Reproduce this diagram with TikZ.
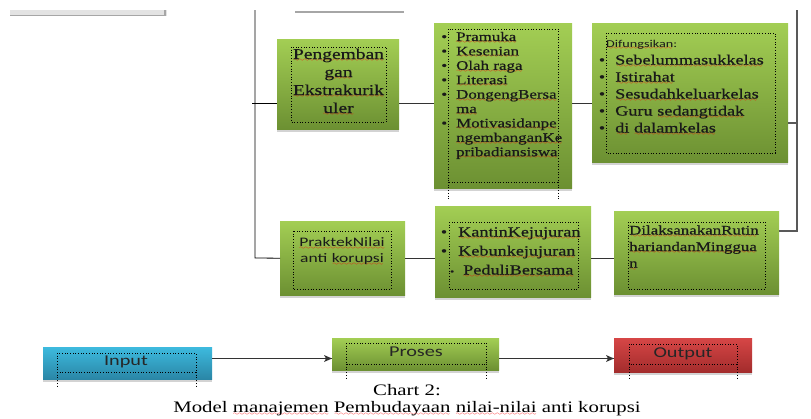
\documentclass[tikz,border=0pt]{standalone}
\usepackage{fontspec}
\usetikzlibrary{positioning,shadows,arrows.meta}

\newfontfamily\boxserif[FakeStretch=1.3,FakeBold=0.6]{Liberation Serif}
\newfontfamily\capserif[FakeStretch=1.3]{Liberation Serif}
\newfontfamily\boxsans[FakeStretch=1.35]{Carlito}

% red spelling wave under a word
\font\wavefont=lasy6
\newsavebox\splbox
\newcommand\spl[1]{\leavevmode\sbox\splbox{#1}\rlap{\raisebox{-2.5pt}[0pt][0pt]{\hbox to\wd\splbox{\color{red}\cleaders\hbox{\wavefont\char58}\hfill}}}\usebox\splbox}
\newcommand\itm[1]{\leavevmode\llap{\textbullet\hspace{#1}}}

\definecolor{grtop}{HTML}{A3CE54}
\definecolor{grbot}{HTML}{6C9032}
\definecolor{bltop}{HTML}{3DBADE}
\definecolor{blbot}{HTML}{2A86A6}
\definecolor{rdtop}{HTML}{D64646}
\definecolor{rdbot}{HTML}{A32C2C}

\tikzset{
	box/.style={anchor=north west, inner sep=0pt, drop shadow={shadow xshift=0pt, shadow yshift=-2.5pt, opacity=.35}},
	greenbox/.style={box, top color=grtop, bottom color=grbot},
	bluebox/.style={box, top color=bltop, bottom color=blbot},
	redbox/.style={box, top color=rdtop, bottom color=rdbot},
	frame/.style={dotted, line width=.7pt},
	line/.style={draw=black!80, line width=.8pt},
	txt/.style={inner sep=0pt, text=black!90, text width=#1},
}

\begin{document}
\begin{tikzpicture}[x=1pt, y=-1pt]
		\useasboundingbox (0,0) rectangle (811,418);

		% cut-off boxes above
		\fill[gray!22] (10,10) rectangle (167,16);
		\draw[gray!70, line width=1.2pt] (10,15.5) -- (165,15.5) -- (165,10);
		\draw[gray!70, line width=1.5pt] (295,12) -- (404,12);

		% boxes
		\draw (277,39) node[greenbox, minimum width=122, minimum height=90] (ekskul) {};
		\draw (434,23) node[greenbox, minimum width=138, minimum height=165] (kegiatan) {};
		\draw (592,23) node[greenbox, minimum width=196, minimum height=139] (fungsi) {};
		\draw (280,221) node[greenbox, minimum width=125, minimum height=74] (praktek) {};
		\draw (435,206) node[greenbox, minimum width=156, minimum height=91] (kantin) {};
		\draw (614,211) node[greenbox, minimum width=165, minimum height=83] (rutin) {};
		\draw (43,347) node[bluebox, minimum width=169, minimum height=32] (input) {};
		\draw (332,338) node[greenbox, minimum width=167, minimum height=32] (proses) {};
		\draw (614,338) node[redbox, minimum width=138, minimum height=34] (output) {};

		% dotted text frames
		\draw[frame] (291,47) rectangle (386,122);
		\draw[frame] (448,29) rectangle (558,182) (448,182) -- (448,199) (558,182) -- (558,199);
		\draw[frame] (606,33) rectangle (775,153);
		\draw[frame] (293,231) rectangle (391,289);
		\draw[frame] (449,222) rectangle (578,289);
		\draw[frame] (628,222) rectangle (765,289);
		\draw[frame] (57,353) rectangle (196,372) (57,372) -- (57,387) (196,372) -- (196,387);
		\draw[frame] (346,343) rectangle (486,364) (346,364) -- (346,378) (486,364) -- (486,378);
		\draw[frame] (629,344) rectangle (737,364) (629,364) -- (629,379) (737,364) -- (737,379);

		% texts
		\draw (338.5,59) node[txt=95, anchor=base, align=center, font=\boxserif\fontsize{15}{18}\selectfont] (ekskul-t)
			{\spl{Pengemban}\\\spl{gan}\\\spl{Ekstrakurik}\\\spl{uler}};
		\draw (456,41) node[txt=110, anchor=base west, align=left, font=\boxserif\fontsize{13}{14.4}\selectfont] (kegiatan-t)
			{\itm{9pt}\spl{Pramuka}\\\itm{9pt}\spl{Kesenian}\\\itm{9pt}\spl{Olah raga}\\\itm{9pt}\spl{Literasi}\\
			 \itm{9pt}\spl{DongengBersa}\\\spl{ma}\\\itm{9pt}\spl{Motivasidanpe}\\\spl{ngembanganKe}\\\spl{pribadiansiswa}};
		\draw (606,47) node[txt=160, anchor=base west, align=left, font=\boxsans\fontsize{10.5}{12}\selectfont] (fungsi-h)
			{\spl{Difungsikan}:};
		\draw (615,64.5) node[txt=165, anchor=base west, align=left, font=\boxserif\fontsize{14}{17}\selectfont] (fungsi-t)
			{\itm{10pt}\spl{Sebelummasukkelas}\\\itm{10pt}\spl{Istirahat}\\\itm{10pt}\spl{Sesudahkeluarkelas}\\
			 \itm{10pt}Guru \spl{sedangtidak}\\\itm{10pt}\spl{di} \spl{dalamkelas}};
		\draw (342,246.5) node[txt=98, anchor=base, align=center, font=\boxsans\fontsize{13}{16}\selectfont] (praktek-t)
			{\spl{PraktekNilai}\\anti \spl{korupsi}};
		\draw (458,236.5) node[txt=130, anchor=base west, align=left, font=\boxserif\fontsize{14}{19}\selectfont] (kantin-t)
			{\itm{11pt}\spl{KantinKejujuran}\\\itm{11pt}\spl{Kebunkejujuran}\\
			 \leavevmode\hspace{5pt}\llap{{\fontsize{9}{9}\selectfont\textbullet}\hspace{9pt}}\spl{PeduliBersama}};
		\draw (629,234.5) node[txt=140, anchor=base west, align=left, font=\boxserif\fontsize{13}{16.5}\selectfont] (rutin-t)
			{\spl{DilaksanakanRutin}\\\spl{hariandanMinggua}\\\spl{n}};
		\draw (126,362) node[inner sep=0pt, font=\boxsans\fontsize{15}{18}\selectfont, text=black!85] (input-t) {Input};
		\draw (416,352) node[inner sep=0pt, font=\boxsans\fontsize{15}{18}\selectfont, text=black!85] (proses-t) {Proses};
		\draw (683,354) node[inner sep=0pt, font=\boxsans\fontsize{15}{18}\selectfont, text=black!85] (output-t) {Output};
		\draw (407,400.5) node[inner sep=0pt, align=center, font=\capserif\fontsize{16}{17}\selectfont] (caption)
			{Chart 2:\\Model \spl{manajemen} \spl{Pembudayaan} \spl{nilai-nilai} anti korupsi};

		% connectors
		\coordinate (ltop) at (255,10);
		\coordinate (lmid) at (252,103);
		\coordinate (lbot) at (255,258);
		\coordinate (rtop) at (797,10);
		\coordinate (rmid) at (797,123);
		\coordinate (rbot) at (797,231);
		\coordinate (arr) at (0,358.5);

		\draw[line, draw=black] (ltop) -- (lbot) -- (praktek.west);
		\draw[line, draw=black] (lmid) -- (lmid -| ekskul.west);
		\draw[line, draw=black!65, line width=1.3pt] (rtop) -- (rbot) -- (rbot -| rutin.east);
		\draw[line, draw=black!65, line width=1.3pt] (rmid) -- (rmid -| fungsi.east);
		\path[line]
			(ekskul.east |- lmid)		edge	(kegiatan.west |- lmid)
			(kegiatan.east |- lmid)		edge	(fungsi.west |- lmid)
			(praktek.east)				edge	(praktek.east -| kantin.west)
			(kantin.east |- praktek.east)	edge	(rutin.west |- praktek.east)
			(input.east |- arr)			edge	(proses.west |- arr)
			(proses.east |- arr)		edge	(output.west |- arr)
			;
		% arrow heads
		\fill[black!80] (proses.west |- arr) -- ++(-8,-3.5) -- ++(2,3.5) -- ++(-2,3.5) -- cycle;
		\fill[black!80] (output.west |- arr) -- ++(-8,-3.5) -- ++(2,3.5) -- ++(-2,3.5) -- cycle;
\end{tikzpicture}
\end{document}
